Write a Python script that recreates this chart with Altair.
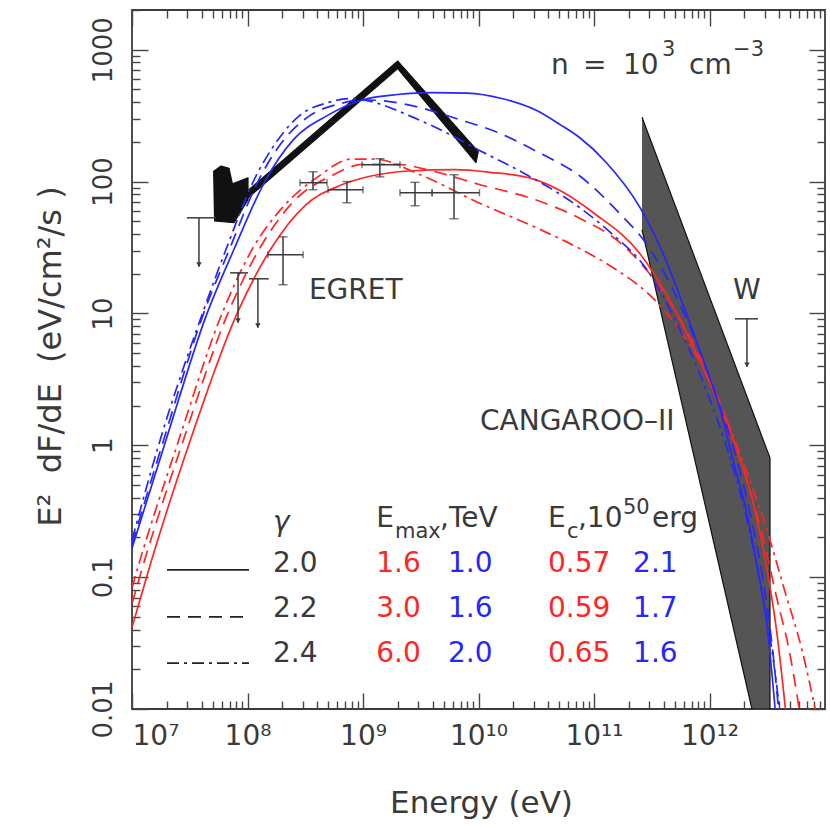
import altair as alt
import pandas as pd

W, H = 693, 699
FONT = "DejaVu Sans"
INK = "#3a3a3a"
RED = "#ff2626"
BLUE = "#2626ff"
DASH = [13, 8]
DASHDOT = [12, 5, 3, 5]

# ---------------- model curves (log10 E [eV], log10 E^2 dF/dE [eV/cm2/s])
rs_logE = [7.0, 7.17, 7.49, 7.91, 8.21, 8.5, 8.8, 9.06, 9.4, 9.8, 10.1, 10.47, 10.71, 11.0, 11.4, 11.63, 11.83, 12.03, 12.18, 12.32, 12.5, 12.58, 12.66]
rs_logF = [-1.38, -0.87, 0.0, 1.0, 1.5, 1.82, 1.97, 2.04, 2.08, 2.09, 2.07, 2.02, 1.93, 1.76, 1.45, 1.14, 0.8, 0.42, 0.1, -0.25, -0.95, -1.4, -2.02]

rd_logE = [7.0, 7.11, 7.43, 7.83, 8.11, 8.4, 8.74, 9.0, 9.3, 9.6, 10.0, 10.5, 10.88, 11.22, 11.6, 11.9, 12.1, 12.26, 12.45, 12.58, 12.7, 12.78]
rd_logF = [-1.2, -0.87, 0.0, 1.0, 1.5, 1.85, 2.05, 2.13, 2.13, 2.08, 1.98, 1.86, 1.72, 1.54, 1.16, 0.7, 0.3, -0.1, -0.65, -1.15, -1.6, -2.02]

rdd_logE = [7.0, 7.07, 7.39, 7.78, 8.05, 8.3, 8.6, 8.9, 9.1, 9.5, 10.0, 10.5, 10.88, 11.16, 11.55, 11.9, 12.1, 12.3, 12.5, 12.65, 12.8, 12.92]
rdd_logF = [-1.08, -0.87, 0.0, 1.0, 1.5, 1.8, 2.03, 2.17, 2.17, 2.05, 1.84, 1.65, 1.49, 1.35, 1.08, 0.66, 0.3, -0.15, -0.65, -1.1, -1.55, -2.02]

bs_logE = [7.0, 7.28, 7.65, 7.89, 8.15, 8.4, 8.69, 9.0, 9.3, 9.6, 9.9, 10.2, 10.5, 10.71, 10.88, 11.1, 11.4, 11.6, 11.77, 11.94, 12.09, 12.2, 12.32, 12.42, 12.5, 12.57]
bs_logF = [-0.78, 0.0, 1.0, 1.5, 2.0, 2.32, 2.5, 2.62, 2.66, 2.675, 2.67, 2.63, 2.54, 2.43, 2.33, 2.15, 1.8, 1.45, 1.07, 0.66, 0.28, -0.1, -0.5, -0.95, -1.38, -2.02]

bd_logE = [7.0, 7.26, 7.62, 7.85, 8.09, 8.3, 8.54, 8.8, 9.0, 9.2, 9.5, 9.8, 10.2, 10.5, 10.88, 11.22, 11.46, 11.66, 11.89, 12.09, 12.24, 12.36, 12.46, 12.54, 12.6]
bd_logF = [-0.75, 0.0, 1.0, 1.5, 2.0, 2.3, 2.5, 2.59, 2.62, 2.61, 2.56, 2.48, 2.36, 2.23, 2.04, 1.76, 1.52, 1.22, 0.77, 0.3, -0.12, -0.55, -1.0, -1.5, -2.02]

bdd_logE = [7.0, 7.23, 7.61, 7.82, 8.05, 8.25, 8.45, 8.7, 8.9, 9.1, 9.4, 9.7, 10.0, 10.4, 10.88, 11.16, 11.46, 11.72, 11.98, 12.18, 12.32, 12.44, 12.54, 12.61]
bdd_logF = [-0.72, 0.0, 1.0, 1.5, 2.0, 2.3, 2.5, 2.6, 2.63, 2.6, 2.5, 2.38, 2.24, 2.06, 1.80, 1.6, 1.33, 0.92, 0.4, -0.1, -0.55, -1.05, -1.55, -2.02]

# ---------------- EGRET points with error bars
egret_E = [2.03e8, 3.69e8, 7.26e8, 1.40e9, 2.82e9, 6.14e9]
egret_E_lo = [1.50e8, 2.85e8, 4.98e8, 9.8e8, 2.09e9, 3.95e9]
egret_E_hi = [3.03e8, 4.88e8, 1.0e9, 2.09e9, 3.98e9, 1.02e10]
egret_F = [27.9, 98.0, 86.7, 134.0, 82.2, 82.2]
egret_F_lo = [16.5, 86.7, 69.0, 108.6, 65.5, 52.2]
egret_F_hi = [38.1, 118.6, 100.0, 149.0, 98.6, 112.7]

# ---------------- upper limits (3 EGRET + Whipple)
ul_E = [3.8e7, 8.28e7, 1.23e8, 2.11e12]
ul_E_lo = [2.99e7, 7.05e7, 1.03e8, 1.66e12]
ul_E_hi = [5.33e7, 1.01e8, 1.53e8, 2.63e12]
ul_F = [53.1, 20.3, 18.3, 9.1]
ul_F_tip = [22.6, 8.5, 7.8, 3.94]

# ---------------- black butterfly (outline vertices)
bow_E = [7.95e7, 2.00e9, 9.95e9, 9.51e9, 2.00e9, 8.61e7]
bow_F = [71.5, 820.0, 168.3, 138.9, 720.0, 66.7]
blob_E = [5.03e7, 5.9e7, 6.92e7, 7.4e7, 1.01e8, 1.01e8, 7.64e7, 5.13e7]
blob_F = [118.7, 131.0, 126.0, 96.0, 106.9, 72.8, 48.7, 50.4]

# ---------------- CANGAROO-II band (outline vertices)
cang_E = [2.604e11, 3.34e12, 3.34e12, 2.33e12, 2.604e11]
cang_F = [307.6, 0.802, 0.01, 0.01, 43.1]

# ---------------- annotations
ann_text = ["n", "=", "10", "3", "cm", "−3", "EGRET", "CANGAROO–II", "W",
            "E", "max", ",TeV", "E", "c", ",10", "50", "erg"]
ann_E = [4.25e10, 8.04e10, 1.78e11, 3.88e11, 6.65e11, 1.60e12, 3.40e8, 1.03e10, 1.60e12,
         1.30e9, 1.89e9, 4.65e9, 4.0e10, 5.84e10, 7.26e10, 1.78e11, 3.18e11]
ann_F = [757, 757, 757, 1000, 757, 1000, 14.8, 1.51, 14.8,
         0.277, 0.2203, 0.277, 0.277, 0.2203, 0.277, 0.335, 0.277]
ann_size = [28, 28, 28, 21, 28, 21, 28, 28, 28, 28, 21, 28, 28, 21, 28, 21, 28]

gamma_vals = ["2.0", "2.2", "2.4"]
emax_red = ["1.6", "3.0", "6.0"]
emax_blue = ["1.0", "1.6", "2.0"]
ec_red = ["0.57", "0.59", "0.65"]
ec_blue = ["2.1", "1.7", "1.6"]
row_F = [0.1259, 0.0574, 0.0261]
col_E = [1.66e8, 1.30e9, 5.45e9, 4.0e10, 2.18e11]
sample_F = [0.1135, 0.0499, 0.0223]
sample_E = [2.01e7, 1.03e8]

x_major = [1e7, 1e8, 1e9, 1e10, 1e11, 1e12]
x_major_text = ["10⁷", "10⁸", "10⁹", "10¹⁰", "10¹¹", "10¹²"]
y_major = [0.01, 0.1, 1, 10, 100, 1000]
x_minor = [k * 10.0 ** n for n in range(7, 13) for k in range(2, 10)]
y_minor = [k * 10.0 ** n for n in range(-2, 4) for k in range(2, 10) if k * 10.0 ** n <= 2000]

xs = alt.Scale(type="log", domain=[1e7, 1e13], nice=False)
ys = alt.Scale(type="log", domain=[0.01, 2000], nice=False)


def X(f):
    return alt.X(f, type="quantitative", scale=xs, axis=None)


def Y(f):
    return alt.Y(f, type="quantitative", scale=ys, axis=None)


def poly(Es, Fs):
    return pd.DataFrame({"E": Es, "F": Fs, "i": list(range(len(Es)))})


layers = []

# CANGAROO band
layers.append(alt.Chart(poly(cang_E, cang_F)).mark_line(
    fill="#555555", stroke="#111111", strokeWidth=1.2, clip=True
).encode(x=X("E"), y=Y("F"), order="i:Q"))

# black butterfly
for Es, Fs in [(bow_E, bow_F), (blob_E, blob_F)]:
    layers.append(alt.Chart(poly(Es, Fs)).mark_line(
        fill="#111111", stroke="#111111", strokeWidth=1.2, strokeJoin="round", clip=True
    ).encode(x=X("E"), y=Y("F"), order="i:Q"))

# model curves
curve_specs = [
    (rs_logE, rs_logF, RED, None), (rd_logE, rd_logF, RED, DASH), (rdd_logE, rdd_logF, RED, DASHDOT),
    (bs_logE, bs_logF, BLUE, None), (bd_logE, bd_logF, BLUE, DASH), (bdd_logE, bdd_logF, BLUE, DASHDOT),
]
for le, lf, col, dash in curve_specs:
    df = pd.DataFrame({"E": [10 ** v for v in le], "F": [10 ** v for v in lf], "i": list(range(len(le)))})
    kw = dict(color=col, strokeWidth=1.7, interpolate="monotone", clip=True)
    if dash:
        kw["strokeDash"] = dash
    layers.append(alt.Chart(df).mark_line(**kw).encode(x=X("E"), y=Y("F"), order="i:Q"))

# EGRET error bars
eg = pd.DataFrame({"E": egret_E, "E_lo": egret_E_lo, "E_hi": egret_E_hi,
                   "F": egret_F, "F_lo": egret_F_lo, "F_hi": egret_F_hi})
ERR = "#3a3a3a"
layers.append(alt.Chart(eg).mark_rule(color=ERR, strokeWidth=1.5).encode(
    x=X("E_lo"), x2="E_hi", y=Y("F")))
layers.append(alt.Chart(eg).mark_rule(color=ERR, strokeWidth=1.5).encode(
    x=X("E"), y=Y("F_lo"), y2="F_hi"))
hcaps = pd.DataFrame({"E": egret_E_lo + egret_E_hi, "F": egret_F + egret_F})
vcaps = pd.DataFrame({"E": egret_E + egret_E, "F": egret_F_lo + egret_F_hi})
layers.append(alt.Chart(hcaps).mark_tick(orient="vertical", size=7, thickness=1.4, color=ERR).encode(
    x=X("E"), y=Y("F")))
layers.append(alt.Chart(vcaps).mark_tick(orient="horizontal", size=9, thickness=1.4, color=ERR).encode(
    x=X("E"), y=Y("F")))

# upper limits
ul = pd.DataFrame({"E": ul_E, "E_lo": ul_E_lo, "E_hi": ul_E_hi, "F": ul_F, "F_tip": ul_F_tip})
layers.append(alt.Chart(ul).mark_rule(color=ERR, strokeWidth=1.5).encode(
    x=X("E_lo"), x2="E_hi", y=Y("F")))
layers.append(alt.Chart(ul).mark_rule(color=ERR, strokeWidth=1.5).encode(
    x=X("E"), y=Y("F"), y2="F_tip"))
layers.append(alt.Chart(ul).mark_point(shape="triangle-down", filled=True, size=30, color=ERR,
                                       opacity=1, yOffset=-2).encode(x=X("E"), y=Y("F_tip")))

# annotations
ann = pd.DataFrame({"E": ann_E, "F": ann_F, "text": ann_text, "size": ann_size})
layers.append(alt.Chart(ann).mark_text(align="left", baseline="middle", font=FONT, color=INK).encode(
    x=X("E"), y=Y("F"), text="text:N", size=alt.Size("size:Q", scale=None)))
gam = pd.DataFrame({"E": [col_E[0]], "F": [0.2576], "text": ["γ"]})
layers.append(alt.Chart(gam).mark_text(align="left", baseline="middle", font=FONT, fontSize=28,
                                       fontStyle="italic", color=INK).encode(x=X("E"), y=Y("F"), text="text:N"))

# legend table
rows = []
for j, F in enumerate(row_F):
    for k, (vals, col) in enumerate([(gamma_vals, INK), (emax_red, RED), (emax_blue, BLUE),
                                     (ec_red, RED), (ec_blue, BLUE)]):
        rows.append({"E": col_E[k], "F": F, "text": vals[j], "color": col})
tab = pd.DataFrame(rows)
layers.append(alt.Chart(tab).mark_text(align="left", baseline="middle", font=FONT, fontSize=28).encode(
    x=X("E"), y=Y("F"), text="text:N", color=alt.Color("color:N", scale=None)))

for F, dash in zip(sample_F, [None, DASH, DASHDOT]):
    df = pd.DataFrame({"E": [sample_E[0]], "E2": [sample_E[1]], "F": [F]})
    kw = dict(color="#222222", strokeWidth=1.7)
    if dash:
        kw["strokeDash"] = dash
    layers.append(alt.Chart(df).mark_rule(**kw).encode(x=X("E"), x2="E2", y=Y("F")))

# ---------------- axes
anchor = pd.DataFrame({"E": [1e7, 1e13], "F": [0.01, 2000]})


def axis_layer(xaxis, yaxis):
    return alt.Chart(anchor).mark_point(opacity=0).encode(
        x=alt.X("E:Q", scale=xs, axis=xaxis), y=alt.Y("F:Q", scale=ys, axis=yaxis))


x_expr = "".join(f"datum.value < {v * 3:g} ? '{t}' : " for v, t in zip(x_major[:-1], x_major_text[:-1])) \
    + f"'{x_major_text[-1]}'"

x_label_axis = alt.Axis(orient="bottom", values=x_major, labelExpr=x_expr, ticks=False, tickSize=0,
                        domain=False, grid=False, labelFont=FONT, labelFontSize=28, labelColor=INK,
                        labelPadding=13, labelOverlap=False, labelFlush=True,
                        title="Energy (eV)", titleFont=FONT, titleFontSize=31, titleFontWeight="normal",
                        titleColor=INK, titleX=349, titleY=103, titleAlign="center",
                        titleBaseline="alphabetic")
y_label_axis = alt.Axis(orient="left", values=y_major, labelExpr="format(datum.value, '~g')",
                        ticks=False, tickSize=0, domain=False, grid=False, labelFont=FONT,
                        labelFontSize=26, labelColor=INK, labelAngle=270, labelAlign="center",
                        labelBaseline="bottom", labelPadding=16, labelOverlap=False,
                        title="E²\u00a0 dF/dE\u00a0 (eV/cm²/s )", titleFont=FONT, titleFontSize=32,
                        titleFontWeight="normal", titleColor=INK, titleAngle=270, titleX=-72,
                        titleY=346, titleAlign="center", titleBaseline="alphabetic")
layers.append(axis_layer(x_label_axis, y_label_axis))


def tick_axis(orient, offset, vals, size):
    return alt.Axis(orient=orient, offset=offset, values=vals, ticks=True, tickSize=size,
                    tickColor="#454545", tickWidth=1.4, labels=False, domain=False, grid=False, title="")


for vx, vy, sz in [(x_major, y_major, 16), (x_minor, y_minor, 8)]:
    layers.append(axis_layer(tick_axis("top", -H, vx, sz), tick_axis("right", -W, vy, sz)))
    layers.append(axis_layer(tick_axis("bottom", -H, vx, sz), tick_axis("left", -W, vy, sz)))

chart = alt.layer(*layers).resolve_axis(x="independent", y="independent").properties(
    width=W, height=H,
    padding={"left": 132, "top": 10, "right": 5, "bottom": 119},
    autosize=alt.AutoSizeParams(type="none"),
    background="white",
).configure_view(stroke="#3c3c3c", strokeWidth=1.8)

chart.save("out.html", embed_options={"renderer": "svg", "actions": False})
